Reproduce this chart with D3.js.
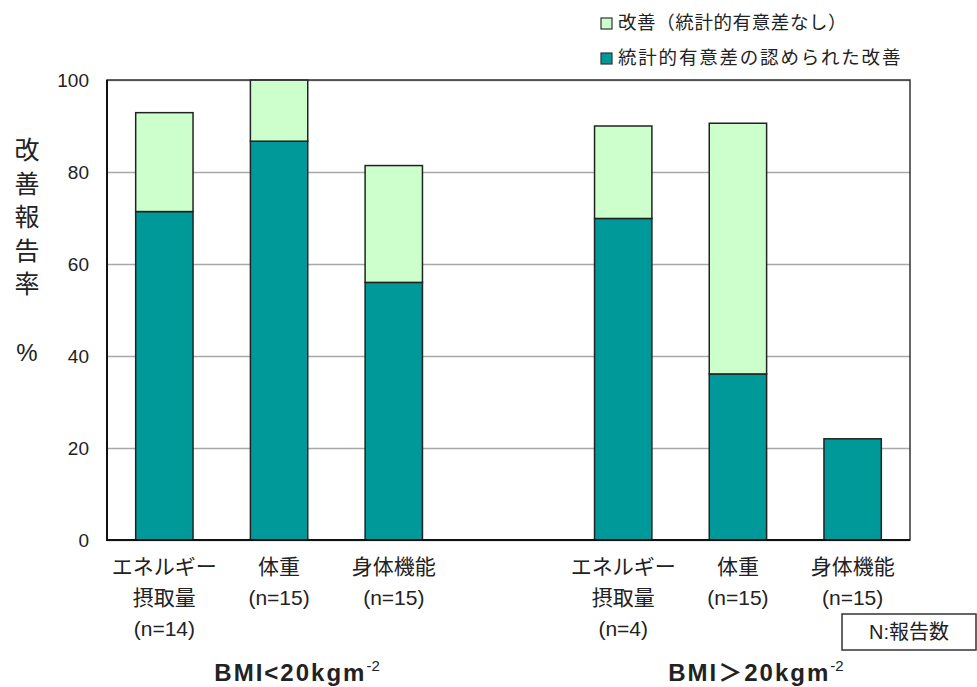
<!DOCTYPE html>
<html>
  <head>
    <meta charset="utf-8" />
    <title>改善報告率</title>
    <script src="https://d3js.org/d3.v7.min.js"></script>
    <style>
        body {
            margin: 0;
            background: #fff;
        }
        text {
            font-family: "Liberation Sans", "Noto Sans CJK JP", sans-serif;
            fill: #222;
        }
    </style>
  </head>
  <body>
    <svg id="chart"></svg>

    <script>
        // categories (one empty slot between the two BMI groups)
        var categories = ["e1", "w1", "p1", "gap", "e2", "w2", "p2"];
        var categoryLabels = [
            ["エネルギー", "摂取量", "(n=14)"],
            ["体重", "(n=15)"],
            ["身体機能", "(n=15)"],
            [],
            ["エネルギー", "摂取量", "(n=4)"],
            ["体重", "(n=15)"],
            ["身体機能", "(n=15)"]
        ];
        // % reporting a statistically significant improvement
        var significant = [71.4, 86.7, 56.0, 0, 69.9, 36.1, 22.0];
        // % reporting improvement without significance (stacked on top)
        var notSignificant = [21.5, 13.3, 25.4, 0, 20.1, 54.5, 0];

        var seriesNames = ["統計的有意差の認められた改善", "改善（統計的有意差なし）"];
        var seriesColors = ["#009999", "#ccffcc"];
        var yTicks = [0, 20, 40, 60, 80, 100];
        var groupLabels = ["BMI<20kgm", "BMI＞20kgm"];
        var groupCenters = ["w1", "w2"];

        var width = 977, height = 687;
        var margin = {top: 80, right: 67, bottom: 147, left: 107};
        var chartWidth = width - margin.left - margin.right;
        var chartHeight = height - margin.top - margin.bottom;

        var svg = d3.select("#chart").attr("width", width).attr("height", height);

        var x = d3.scaleBand()
            .domain(categories)
            .range([margin.left, margin.left + chartWidth])
            .paddingInner(0.5)
            .paddingOuter(0.25);

        var y = d3.scaleLinear()
            .domain([0, 100])
            .range([margin.top + chartHeight, margin.top]);

        // gridlines
        svg.append("g")
            .attr("transform", "translate(" + margin.left + ",0)")
            .call(d3.axisLeft(y).tickValues(yTicks).tickSize(-chartWidth).tickFormat(""))
            .call(function(g) {
                g.select(".domain").remove();
                g.selectAll("line").attr("stroke", "#a8a8a8").attr("stroke-width", 1.5);
            });

        // data
        var rows = categories.map(function(c, i) {
            return {key: c, sig: significant[i], non: notSignificant[i]};
        });
        var stack = d3.stack().keys(["sig", "non"]);
        var layers = stack(rows);

        svg.append("g").selectAll("g")
            .data(layers)
            .join("g")
            .attr("fill", function(d, i) { return seriesColors[i]; })
            .selectAll("rect")
            .data(function(d) { return d.filter(function(v) { return v[1] - v[0] > 0; }); })
            .join("rect")
            .attr("x", function(d) { return x(d.data.key); })
            .attr("width", x.bandwidth())
            .attr("y", function(d) { return y(d[1]); })
            .attr("height", function(d) { return y(d[0]) - y(d[1]); })
            .attr("stroke", "#222")
            .attr("stroke-width", 1.5);

        // frame
        svg.append("rect")
            .attr("x", margin.left)
            .attr("y", margin.top)
            .attr("width", chartWidth)
            .attr("height", chartHeight)
            .attr("fill", "none")
            .attr("stroke", "#333")
            .attr("stroke-width", 1.5);
        svg.append("path")
            .attr("d", "M" + margin.left + "," + margin.top + "V" + (margin.top + chartHeight) + "H" + (margin.left + chartWidth))
            .attr("fill", "none")
            .attr("stroke", "#111")
            .attr("stroke-width", 2);

        // y axis labels
        svg.append("g")
            .attr("transform", "translate(" + margin.left + ",0)")
            .call(d3.axisLeft(y).tickValues(yTicks).tickSize(0).tickPadding(18))
            .call(function(g) {
                g.select(".domain").remove();
                g.selectAll("text").style("font-size", "19px").attr("fill", "#333");
            });

        // y title
        var yTitle = ["改", "善", "報", "告", "率"];
        svg.append("g").selectAll("text")
            .data(yTitle)
            .join("text")
            .attr("x", 27)
            .attr("y", function(d, i) { return 159 + i * 33.5; })
            .attr("text-anchor", "middle")
            .style("font-size", "25px")
            .text(function(d) { return d; });
        svg.append("text")
            .attr("x", 27)
            .attr("y", 361)
            .attr("text-anchor", "middle")
            .style("font-size", "24px")
            .text("%");

        // category labels
        var catG = svg.append("g").selectAll("text")
            .data(categories)
            .join("text")
            .attr("text-anchor", "middle")
            .style("font-size", "21px")
            .attr("transform", function(d) {
                return "translate(" + (x(d) + x.bandwidth() / 2) + ",0)";
            });
        catG.selectAll("tspan")
            .data(function(d, i) { return categoryLabels[i]; })
            .join("tspan")
            .attr("x", 0)
            .attr("y", function(d, i) { return 574 + i * 31; })
            .text(function(d) { return d; });

        // group labels
        groupLabels.forEach(function(label, i) {
            var cx = x(groupCenters[i]) + x.bandwidth() / 2 + 18;
            var t = svg.append("text")
                .attr("x", cx)
                .attr("y", 681)
                .attr("text-anchor", "middle")
                .style("font-size", "24px")
                .style("font-weight", "bold")
                .style("letter-spacing", "2px");
            t.append("tspan").text(label);
            t.append("tspan")
                .attr("dy", -10)
                .style("font-size", "15px")
                .style("font-weight", "normal")
                .style("letter-spacing", "0px")
                .text("-2");
        });

        // N box
        svg.append("rect")
            .attr("x", 842)
            .attr("y", 614)
            .attr("width", 134)
            .attr("height", 36)
            .attr("fill", "#fff")
            .attr("stroke", "#333")
            .attr("stroke-width", 1.5);
        svg.append("text")
            .attr("x", 909)
            .attr("y", 639)
            .attr("text-anchor", "middle")
            .style("font-size", "20px")
            .text("N:報告数");

        // legend (light series listed first)
        var legendOrder = [1, 0];
        var legend = svg.append("g").selectAll("g")
            .data(legendOrder)
            .join("g")
            .attr("transform", function(d, i) { return "translate(601," + (18 + i * 35) + ")"; });
        legend.append("rect")
            .attr("width", 11)
            .attr("height", 11)
            .attr("fill", function(d) { return seriesColors[d]; })
            .attr("stroke", "#333")
            .attr("stroke-width", 1.2);
        legend.append("text")
            .attr("x", 17)
            .attr("y", 11)
            .style("font-size", "18.5px")
            .style("letter-spacing", function(d) { return d === 0 ? "1.8px" : "0.6px"; })
            .text(function(d) { return seriesNames[d]; });
    </script>
  </body>
</html>
